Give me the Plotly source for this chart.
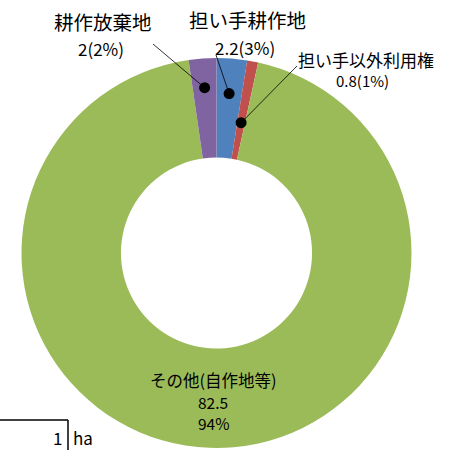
import math
import plotly.graph_objects as go

labels = ["担い手耕作地", "担い手以外利用権", "その他(自作地等)", "耕作放棄地"]
values = [2.2, 0.8, 82.5, 2]
percents = ["3%", "1%", "94%", "2%"]
colors = ["#4F81BD", "#C0504D", "#9BBB59", "#8064A2"]

W, H = 463, 450
CX, CY, R = 216.5, 253, 195
HOLE = 0.49
FONT = "Noto Sans CJK JP"

fig = go.Figure(go.Pie(
    labels=labels, values=values, sort=False, direction="clockwise", rotation=0,
    hole=HOLE, marker=dict(colors=colors, line=dict(width=0)),
    textinfo="none", hoverinfo="label+value+percent", showlegend=False,
    domain=dict(x=[(CX - R) / W, (CX + R) / W], y=[(H - CY - R) / H, (H - CY + R) / H]),
))

def px(x, y):
    return x / W, 1 - y / H

total = sum(values)
mids = []
acc = 0
for v in values:
    mids.append((acc + v / 2) / total * 360)
    acc += v

def polar(angle_deg, frac):
    a = math.radians(angle_deg)
    return CX + R * frac * math.sin(a), CY - R * frac * math.cos(a)

shapes = []
annotations = []

def f(size):
    return dict(family=FONT, size=size, color="black")

# callout labels: (index, dot radius fraction, line end pixel, name pos, value pos, name size, value size)
callouts = [
    (0, 0.82, (216, 55), (247, 20), (245, 47), 19.5, 17),
    (1, 0.68, (297, 66), (366, 60), (362, 81), 17, 15),
    (3, 0.85, (153, 44), (103, 22), (101, 48), 19.5, 17),
]
for idx, frac, lend, npos, vpos, ns, vs in callouts:
    dx, dy = polar(mids[idx], frac)
    x0, y0 = px(dx, dy)
    x1, y1 = px(*lend)
    shapes.append(dict(type="line", xref="paper", yref="paper", x0=x0, y0=y0, x1=x1, y1=y1,
                       line=dict(color="black", width=0.8)))
    rr = 5.5
    cx0, cy0 = px(dx - rr, dy - rr)
    cx1, cy1 = px(dx + rr, dy + rr)
    shapes.append(dict(type="circle", xref="paper", yref="paper", x0=cx0, y0=cy1, x1=cx1, y1=cy0,
                       fillcolor="black", line=dict(color="black", width=0)))
    ax, ay = px(*npos)
    annotations.append(dict(text=labels[idx], x=ax, y=ay, xref="paper", yref="paper",
                            showarrow=False, font=f(ns), xanchor="center", yanchor="middle"))
    vx, vy = px(*vpos)
    annotations.append(dict(text=f"{values[idx]}({percents[idx]})", x=vx, y=vy, xref="paper", yref="paper",
                            showarrow=False, font=f(vs), xanchor="center", yanchor="middle"))

# large slice label inside
for txt, yy, sz in [(labels[2], 380, 16.5), (str(values[2]), 402, 15.5), (percents[2], 423, 15.5)]:
    x, y = px(213, yy)
    annotations.append(dict(text=txt, x=x, y=y, xref="paper", yref="paper", showarrow=False,
                            font=f(sz), xanchor="center", yanchor="middle"))

# unit box in the bottom-left corner
for (a, b), (c, d) in [((0, 420), (68, 420)), ((68, 420), (68, 452))]:
    x0, y0 = px(a, b)
    x1, y1 = px(c, d)
    shapes.append(dict(type="line", xref="paper", yref="paper", x0=x0, y0=y0, x1=x1, y1=y1,
                       line=dict(color="black", width=1.5)))
x, y = px(64, 437)
annotations.append(dict(text="1", x=x, y=y, xref="paper", yref="paper", showarrow=False,
                        font=f(17), xanchor="right", yanchor="middle"))
x, y = px(71, 437)
annotations.append(dict(text="ha", x=x, y=y, xref="paper", yref="paper", showarrow=False,
                        font=f(17), xanchor="left", yanchor="middle"))

fig.update_layout(width=W, height=H, margin=dict(l=0, r=0, t=0, b=0),
                  paper_bgcolor="white", plot_bgcolor="white",
                  shapes=shapes, annotations=annotations)
fig.write_html("out.html", config={"displayModeBar": False},
               post_script="document.body.style.margin='0';document.body.style.overflow='hidden';")
